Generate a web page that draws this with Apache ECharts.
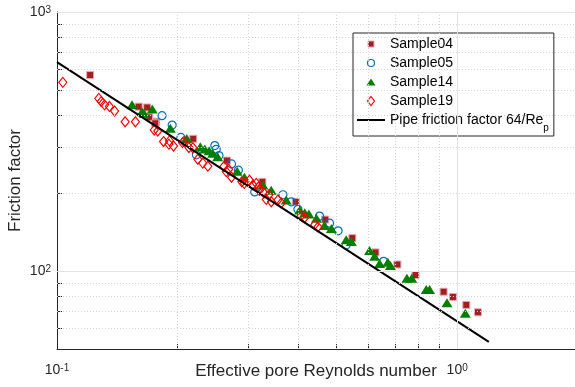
<!DOCTYPE html>
<html>
<head>
<meta charset="utf-8">
<script src="https://cdn.jsdelivr.net/npm/echarts@6/dist/echarts.min.js"></script>
<style>
  html, body { margin: 0; padding: 0; background: #fff; }
  #main { width: 575px; height: 387px; }
</style>
</head>
<body>
<div id="main"></div>
<script>
// values (Re_p, friction factor)
var sample04 = [[0.121, 571], [0.160, 431], [0.168, 428], [0.170, 392], [0.177, 377], [0.176, 372],
  [0.219, 324], [0.266, 267], [0.326, 221], [0.395, 185], [0.468, 158], [0.547, 134], [0.625, 118],
  [0.709, 106], [0.787, 96.5], [0.925, 83.2], [0.976, 79.4], [1.054, 74.0], [1.127, 69.3]];
var sample05 = [[0.183, 398], [0.194, 366], [0.204, 328], [0.223, 281], [0.248, 305], [0.250, 295],
  [0.254, 279], [0.273, 259], [0.284, 245], [0.312, 202], [0.367, 197], [0.385, 185], [0.400, 173],
  [0.453, 163], [0.480, 153], [0.504, 143], [0.528, 126], [0.655, 109]];
var sample14 = [[0.154, 438], [0.163, 412], [0.165, 407], [0.173, 422], [0.192, 356], [0.211, 325],
  [0.228, 302], [0.234, 296], [0.240, 291], [0.245, 285], [0.252, 276], [0.282, 243], [0.294, 230],
  [0.327, 215], [0.343, 205], [0.374, 188], [0.404, 172], [0.416, 168], [0.426, 166], [0.445, 160],
  [0.466, 150], [0.485, 146], [0.528, 132], [0.544, 130], [0.604, 120], [0.622, 114], [0.640, 107],
  [0.671, 108], [0.681, 105], [0.749, 93.8], [0.770, 93.8], [0.837, 84.9], [0.853, 84.9],
  [0.943, 75.5], [1.048, 68.7]];
var sample19 = [[0.1034, 535], [0.1272, 464], [0.129, 451], [0.1315, 438], [0.1352, 432], [0.1393, 415],
  [0.148, 377], [0.157, 377], [0.175, 350], [0.1786, 347], [0.1846, 316], [0.191, 318], [0.1955, 304],
  [0.1904, 309], [0.206, 313], [0.2075, 316], [0.2136, 300], [0.2185, 299], [0.2249, 270], [0.2314, 261],
  [0.2382, 254], [0.2612, 253], [0.2648, 242], [0.2685, 247], [0.273, 230], [0.2897, 221], [0.294, 218],
  [0.3027, 224], [0.3087, 215], [0.3148, 218], [0.3186, 211], [0.3206, 205], [0.3289, 200], [0.3385, 197],
  [0.3334, 189], [0.3433, 185], [0.3565, 188], [0.3635, 183], [0.4078, 164], [0.4159, 161],
  [0.4406, 151], [0.4487, 148]];
// pipe friction factor 64/Re_p, end points
var pipeLine = [[0.1, 640], [1.2, 53.3]];

var xMajorTicks = [0.1, 1];
var xMinorTicks = [0.2, 0.3, 0.4, 0.5, 0.6, 0.7, 0.8, 0.9];
var yMajorTicks = [100, 1000];
var yMinorTicks = [60, 70, 80, 90, 200, 300, 400, 500, 600, 700, 800, 900];

var chartDom = document.getElementById('main');
var myChart = echarts.init(chartDom);

var font = 'Liberation Sans, Arial, Helvetica, sans-serif';
var ink = '#262626';
var pipeName = 'Pipe friction factor 64/Rep';

function powLabel(v) {
  var e = Math.round(Math.log10(v));
  return '{b|10}{s|' + e + '}';
}
var powRich = {
  b: { fontSize: 14, fontFamily: font, color: ink, lineHeight: 14, verticalAlign: 'bottom' },
  s: { fontSize: 10, fontFamily: font, color: ink, lineHeight: 10, padding: [0, 0, 8, 0], verticalAlign: 'top' }
};

var gridLines = [];
xMajorTicks.slice(1).forEach(function (v) {
  gridLines.push({ xAxis: v, lineStyle: { type: 'solid', color: '#e2e2e2' } });
});
xMinorTicks.forEach(function (v) {
  gridLines.push({ xAxis: v });
});
yMajorTicks.forEach(function (v) {
  gridLines.push({ yAxis: v, lineStyle: { type: 'solid', color: '#e2e2e2' } });
});
yMinorTicks.forEach(function (v) {
  gridLines.push({ yAxis: v });
});

// legend glyphs; the bare moveTo points pad the box so the glyphs stay small
var iconSquare = 'path://M0,0M9,9M1.5,1.5H7.5V7.5H1.5Z';
var iconCircle = 'path://M0,0M9,9M8,4.5A3.5,3.5,0,1,1,1,4.5A3.5,3.5,0,1,1,8,4.5Z';
var iconTriangle = 'path://M0,0M9,9M4.5,1L9,8L0,8Z';
var iconDiamond = 'path://M4.5,0L8,4.5L4.5,9L1,4.5Z';
var iconLine = 'path://M0,0H28V2H0Z';

var option = {
  animation: false,
  backgroundColor: '#fff',
  grid: { left: 57, right: 0, top: 12, bottom: 38, containLabel: false, outerBoundsMode: 'none' },
  legend: {
    orient: 'vertical',
    left: 353,
    top: 33,
    padding: [-2, 5, 3, 4],
    itemGap: -7,
    itemWidth: 28,
    itemHeight: 9,
    symbolKeepAspect: true,
    backgroundColor: '#fff',
    borderColor: ink,
    borderWidth: 1,
    borderRadius: 0,
    selectedMode: false,
    data: [
      { name: 'Sample04', icon: iconSquare, itemStyle: { color: '#A0201E', borderColor: '#E8A6B8', borderWidth: 1 } },
      { name: 'Sample05', icon: iconCircle, itemStyle: { color: 'rgba(0,0,0,0)', borderColor: '#0072BD', borderWidth: 1.2 } },
      { name: 'Sample14', icon: iconTriangle, itemStyle: { color: '#008000', borderWidth: 0 } },
      { name: 'Sample19', icon: iconDiamond, itemStyle: { color: 'rgba(0,0,0,0)', borderColor: '#FF0000', borderWidth: 1.2 } },
      { name: pipeName, icon: iconLine, itemStyle: { color: '#000', borderWidth: 0 } }
    ],
    formatter: function (name) {
      if (name === pipeName) return '{t|Pipe friction factor 64/Re}{p|p}';
      return name;
    },
    textStyle: {
      fontSize: 14,
      fontFamily: font,
      color: '#000',
      lineHeight: 26,
      rich: {
        t: { fontSize: 14, fontFamily: font, color: '#000', lineHeight: 14, verticalAlign: 'middle' },
        p: { fontSize: 10, fontFamily: font, color: '#000', lineHeight: 10, padding: [16, 0, 0, 0], verticalAlign: 'middle' }
      }
    }
  },
  xAxis: {
    type: 'log',
    logBase: 10,
    min: 0.1,
    max: 1.97,
    name: 'Effective pore Reynolds number',
    nameLocation: 'middle',
    nameGap: 14,
    nameMoveOverlap: false,
    nameTextStyle: { fontSize: 17, fontFamily: font, color: ink },
    axisLine: { show: true, onZero: false, lineStyle: { color: ink, width: 1 } },
    axisTick: { show: true, inside: true, length: 5, lineStyle: { color: ink }, customValues: xMajorTicks.concat(xMinorTicks) },
    axisLabel: { customValues: xMajorTicks, formatter: powLabel, rich: powRich, margin: 14 },
    splitLine: { show: false }
  },
  yAxis: {
    type: 'log',
    logBase: 10,
    min: 50,
    max: 1000,
    name: 'Friction factor',
    nameLocation: 'middle',
    nameGap: 33,
    nameMoveOverlap: false,
    nameTextStyle: { fontSize: 17, fontFamily: font, color: ink },
    axisLine: { show: true, onZero: false, lineStyle: { color: ink, width: 1 } },
    axisTick: { show: true, inside: true, length: 5, lineStyle: { color: ink }, customValues: yMajorTicks.concat(yMinorTicks) },
    axisLabel: { customValues: yMajorTicks, formatter: powLabel, rich: powRich, margin: 6 },
    splitLine: { show: false }
  },
  series: [
    {
      name: 'grid',
      type: 'line',
      data: [],
      silent: true,
      z: 1,
      markLine: {
        silent: true,
        symbol: 'none',
        label: { show: false },
        lineStyle: { color: '#d4d4d4', width: 1, type: [1, 2] },
        data: gridLines
      }
    },
    {
      name: 'Sample04',
      type: 'scatter',
      data: sample04,
      symbol: 'rect',
      symbolSize: 7,
      itemStyle: { color: '#A0201E', borderColor: '#E8A6B8', borderWidth: 1, opacity: 1 }
    },
    {
      name: 'Sample05',
      type: 'scatter',
      data: sample05,
      symbol: 'circle',
      symbolSize: 8,
      itemStyle: { color: 'rgba(0,0,0,0)', borderColor: '#0072BD', borderWidth: 1.2, opacity: 1 }
    },
    {
      name: 'Sample14',
      type: 'scatter',
      data: sample14,
      symbol: 'triangle',
      symbolSize: [11, 9],
      itemStyle: { color: '#008000', opacity: 1 }
    },
    {
      name: 'Sample19',
      type: 'scatter',
      data: sample19,
      symbol: 'diamond',
      symbolSize: [8, 10],
      itemStyle: { color: 'rgba(0,0,0,0)', borderColor: '#FF0000', borderWidth: 1.2, opacity: 1 }
    },
    {
      name: pipeName,
      type: 'line',
      data: pipeLine,
      symbol: 'none',
      silent: true,
      lineStyle: { color: '#000', width: 2 },
      itemStyle: { color: '#000' }
    }
  ]
};

myChart.setOption(option);
</script>
</body>
</html>
